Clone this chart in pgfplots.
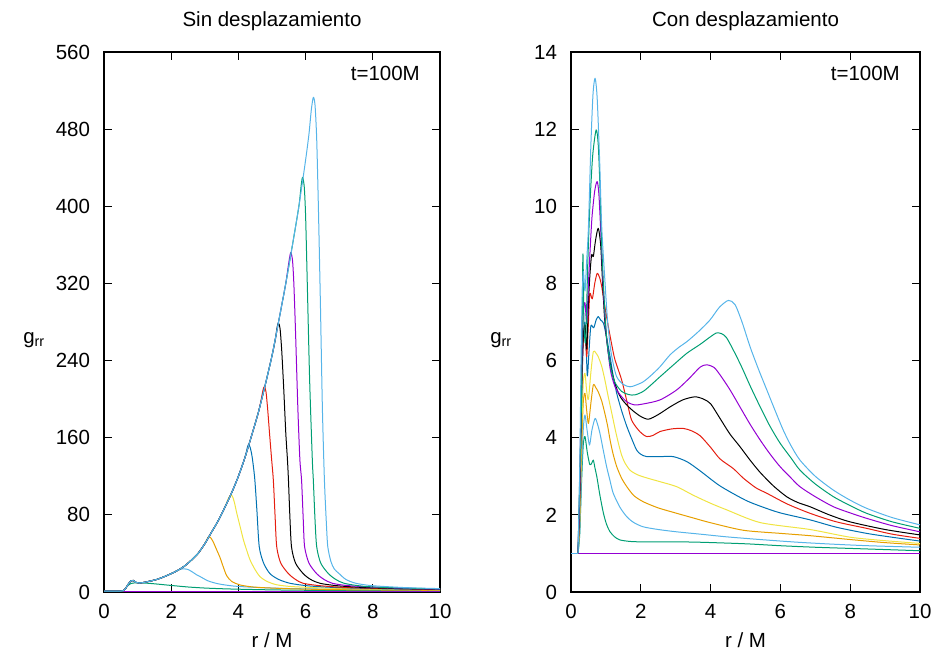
\documentclass[border=0pt]{standalone}
\usepackage{pgfplots}
\pgfplotsset{compat=1.18}
\usepackage{fontspec}
\setmainfont{Liberation Sans}

% gnuplot default line colours
\definecolor{gpPurple}{HTML}{9400D3}
\definecolor{gpGreen}{HTML}{009E73}
\definecolor{gpSky}{HTML}{56B4E9}
\definecolor{gpOrange}{HTML}{E69F00}
\definecolor{gpYellow}{HTML}{F0E442}
\definecolor{gpBlue}{HTML}{0072B2}
\definecolor{gpRed}{HTML}{E51E10}

\pgfplotsset{
  gpframe/.style={
    scale only axis,
    anchor=south west,
    height=540pt,
    xmin=0, xmax=10,
    xtick={0,2,4,6,8,10},
    tick align=inside,
    major tick length=8pt,
    axis line style={line width=1.4pt},
    every tick/.style={black, line width=0.9pt},
    /pgf/number format/assume math mode=true,
    xticklabel style={yshift=-5pt},
    yticklabel style={xshift=-7pt},
    every axis plot/.append style={line width=1pt, line join=round, smooth, tension=0.45},
    clip=true,
  },
}

\begin{document}
\fontsize{20.5}{24}\selectfont
\begin{tikzpicture}[x=1pt,y=1pt]
\useasboundingbox (0,0) rectangle (939,658);

% ---------------- left: without shift ----------------
\begin{axis}[gpframe, at={(104pt,66pt)}, width=336pt,
  ymin=0, ymax=560, ytick={0,80,160,240,320,400,480,560}]
\addplot[gpPurple] coordinates {(0,1)(10,1)};
\addplot[gpGreen] coordinates {(0,1)(0.5,1)(0.58,1.5)(0.65,4)(0.72,7)(0.8,8.8)(0.9,9.4)(1.0,9.5)(1.2,9.3)(1.5,8.5)(2.0,6.8)(2.5,5.2)(3.0,4.1)(3.5,3.4)(4.0,2.9)(5.0,2.2)(6.0,1.8)(7.0,1.6)(8.0,1.45)(10,1.3)};
\addplot[gpSky] coordinates {(0,1)(0.5,1)(0.58,1.5)(0.65,4)(0.72,8)(0.8,11.5)(0.87,12)(0.95,10)(1.05,9.3)(1.2,10)(1.4,11.5)(1.6,13.3)(1.8,16)(2.0,19)(2.15,22)(2.3,23.8)(2.39,24)(2.5,23.3)(2.62,21)(2.75,18)(2.86,16)(3.1,11.5)(3.4,8.5)(3.85,6.2)(4.5,4.8)(5.5,3.6)(7.3,2.7)(10,2)};
\addplot[gpOrange] coordinates {(0,1)(0.5,1)(0.58,1.5)(0.65,4)(0.72,8)(0.8,11.5)(0.87,12)(0.95,10)(1.05,9.3)(1.2,10)(1.4,11.5)(1.6,13.3)(1.8,16)(2.0,19)(2.2,22.5)(2.4,27)(2.6,33)(2.8,40)(3.0,50)(3.1,57)(3.17,56.5)(3.25,52)(3.35,44)(3.45,36)(3.55,26)(3.65,17)(3.8,11)(4.05,7.3)(4.5,5)(5.5,3.4)(7,2.4)(10,1.7)};
\addplot[gpYellow] coordinates {(0,1)(0.5,1)(0.58,1.5)(0.65,4)(0.72,8)(0.8,11.5)(0.87,12)(0.95,10)(1.05,9.3)(1.2,10)(1.4,11.5)(1.6,13.3)(1.8,16)(2.0,19)(2.2,22.5)(2.4,27)(2.6,33)(2.8,40)(3.0,50)(3.1,56)(3.2,62)(3.4,74)(3.6,88)(3.7,97)(3.77,100.6)(3.82,99.5)(3.88,93)(3.95,82)(4.05,68)(4.15,54)(4.25,43)(4.35,33)(4.5,23)(4.64,16)(4.85,11)(5.14,7.5)(5.6,5.6)(6.5,4.2)(7.5,3.3)(10,2.2)};
\addplot[gpBlue] coordinates {(0,1)(0.5,1)(0.58,1.5)(0.65,4)(0.72,8)(0.8,11.5)(0.87,12)(0.95,10)(1.05,9.3)(1.2,10)(1.4,11.5)(1.6,13.3)(1.8,16)(2.0,19)(2.2,22.5)(2.4,27)(2.6,33)(2.8,40)(3.0,50)(3.1,56)(3.2,62)(3.4,74)(3.6,88)(3.8,103)(4.0,120)(4.2,140)(4.26,149)(4.30,153)(4.35,150)(4.40,142)(4.44,132)(4.49,116)(4.55,85)(4.62,47)(4.75,30)(4.94,19)(5.2,13)(5.54,9)(6.1,6.3)(7,4.5)(8.5,3.2)(10,2.4)};
\addplot[gpRed] coordinates {(0,1)(0.5,1)(0.58,1.5)(0.65,4)(0.72,8)(0.8,11.5)(0.87,12)(0.95,10)(1.05,9.3)(1.2,10)(1.4,11.5)(1.6,13.3)(1.8,16)(2.0,19)(2.2,22.5)(2.4,27)(2.6,33)(2.8,40)(3.0,50)(3.1,56)(3.2,62)(3.4,74)(3.6,88)(3.8,103)(4.0,120)(4.2,140)(4.4,163)(4.6,187)(4.68,200)(4.73,209)(4.77,213)(4.82,208)(4.87,190)(4.93,163)(4.99,137)(5.04,116)(5.09,80)(5.14,47)(5.26,30)(5.49,19)(5.7,13)(5.93,9)(6.5,6.3)(7.5,4.3)(10,2.6)};
\addplot[black] coordinates {(0,1)(0.5,1)(0.58,1.5)(0.65,4)(0.72,8)(0.8,11.5)(0.87,12)(0.95,10)(1.05,9.3)(1.2,10)(1.4,11.5)(1.6,13.3)(1.8,16)(2.0,19)(2.2,22.5)(2.4,27)(2.6,33)(2.8,40)(3.0,50)(3.1,56)(3.2,62)(3.4,74)(3.6,88)(3.8,103)(4.0,120)(4.2,140)(4.4,163)(4.6,187)(4.8,215)(5.0,245)(5.1,262)(5.15,274)(5.19,279)(5.24,273)(5.29,250)(5.35,210)(5.41,165)(5.46,137)(5.49,116)(5.53,80)(5.58,47)(5.7,30)(5.93,19)(6.15,13)(6.43,9)(7,6.3)(8,4.3)(10,2.8)};
\addplot[gpPurple] coordinates {(0,1)(0.5,1)(0.58,1.5)(0.65,4)(0.72,8)(0.8,11.5)(0.87,12)(0.95,10)(1.05,9.3)(1.2,10)(1.4,11.5)(1.6,13.3)(1.8,16)(2.0,19)(2.2,22.5)(2.4,27)(2.6,33)(2.8,40)(3.0,50)(3.1,56)(3.2,62)(3.4,74)(3.6,88)(3.8,103)(4.0,120)(4.2,140)(4.4,163)(4.6,187)(4.8,215)(5.0,245)(5.2,281)(5.4,318)(5.46,332)(5.52,346)(5.56,352)(5.61,344)(5.65,320)(5.7,270)(5.77,190)(5.83,137)(5.88,116)(5.93,75)(5.97,47)(6.1,30)(6.33,19)(6.55,13)(6.8,9)(7.3,6.5)(8.5,4.3)(10,3)};
\addplot[gpGreen] coordinates {(0,1)(0.5,1)(0.58,1.5)(0.65,4)(0.72,8)(0.8,11.5)(0.87,12)(0.95,10)(1.05,9.3)(1.2,10)(1.4,11.5)(1.6,13.3)(1.8,16)(2.0,19)(2.2,22.5)(2.4,27)(2.6,33)(2.8,40)(3.0,50)(3.1,56)(3.2,62)(3.4,74)(3.6,88)(3.8,103)(4.0,120)(4.2,140)(4.4,163)(4.6,187)(4.8,215)(5.0,245)(5.2,281)(5.4,318)(5.6,358)(5.8,400)(5.87,422)(5.91,430)(5.96,420)(6.0,390)(6.05,320)(6.12,220)(6.2,137)(6.23,116)(6.28,75)(6.33,47)(6.45,30)(6.68,19)(6.9,13)(7.15,9)(7.7,6)(8.5,4.5)(10,3.2)};
\addplot[gpSky] coordinates {(0,1)(0.5,1)(0.58,1.5)(0.65,4)(0.72,8)(0.8,11.5)(0.87,12)(0.95,10)(1.05,9.3)(1.2,10)(1.4,11.5)(1.6,13.3)(1.8,16)(2.0,19)(2.2,22.5)(2.4,27)(2.6,33)(2.8,40)(3.0,50)(3.1,56)(3.2,62)(3.4,74)(3.6,88)(3.8,103)(4.0,120)(4.2,140)(4.4,163)(4.6,187)(4.8,215)(5.0,245)(5.2,281)(5.4,318)(5.6,358)(5.8,400)(6.0,448)(6.1,475)(6.17,500)(6.23,513)(6.28,505)(6.33,470)(6.38,400)(6.44,300)(6.5,190)(6.56,116)(6.62,70)(6.66,47)(6.75,32)(6.85,24)(7.0,19)(7.2,13)(7.5,9)(8,6.5)(9,4.5)(10,3.5)};
\end{axis}

% ---------------- right: with shift ----------------
% every curve sits on g_rr = 1 for r < 0.2; that common flat start is drawn once, last
\begin{axis}[gpframe, at={(571pt,66pt)}, width=349pt,
  ymin=0, ymax=14, ytick={0,2,4,6,8,10,12,14}]
\addplot[gpPurple] coordinates {(0,1)(10,1)};
\addplot[gpGreen] coordinates {(0.2,1)(0.25,1.5)(0.3,2.8)(0.35,3.8)(0.4,4.03)(0.47,3.6)(0.54,3.3)(0.6,3.35)(0.64,3.42)(0.69,3.2)(0.74,2.99)(0.83,2.5)(0.93,2.04)(1.02,1.75)(1.12,1.56)(1.25,1.43)(1.4,1.35)(1.7,1.31)(2.07,1.30)(3,1.30)(3.7,1.29)(5,1.25)(6,1.2)(7,1.16)(8,1.13)(9,1.1)(10,1.07)};
\addplot[gpSky] coordinates {(0.2,1)(0.25,1.6)(0.3,3)(0.35,4.2)(0.4,4.59)(0.46,4.2)(0.53,3.81)(0.6,4.2)(0.69,4.5)(0.76,4.35)(0.83,4.11)(0.93,3.65)(1.02,3.25)(1.12,2.88)(1.21,2.56)(1.4,2.2)(1.6,1.95)(1.8,1.8)(2.07,1.69)(2.5,1.62)(3.03,1.56)(3.7,1.5)(4.46,1.43)(5.42,1.36)(6.5,1.29)(7.5,1.24)(8.5,1.2)(10,1.16)};
\addplot[gpOrange] coordinates {(0.2,1)(0.25,1.8)(0.3,3.6)(0.35,4.9)(0.4,5.15)(0.45,4.7)(0.5,4.37)(0.57,4.9)(0.64,5.37)(0.71,5.3)(0.78,5.19)(0.88,4.95)(0.97,4.63)(1.05,4.3)(1.12,3.94)(1.2,3.6)(1.31,3.25)(1.45,2.95)(1.6,2.73)(1.8,2.5)(2.07,2.34)(2.5,2.18)(3.03,2.04)(3.5,1.92)(3.98,1.8)(4.94,1.6)(6,1.52)(6.85,1.46)(8,1.36)(9,1.28)(10,1.22)};
\addplot[gpYellow] coordinates {(0.2,1)(0.25,2)(0.3,4)(0.35,5.4)(0.4,5.67)(0.45,5.2)(0.5,5.0)(0.57,5.7)(0.64,6.23)(0.71,6.2)(0.78,6.1)(0.88,5.85)(0.97,5.5)(1.07,5.05)(1.17,4.63)(1.27,4.2)(1.36,3.85)(1.45,3.55)(1.55,3.34)(1.7,3.15)(1.93,3.03)(2.2,2.95)(2.55,2.86)(3.03,2.73)(3.5,2.51)(4.0,2.3)(4.46,2.13)(5.42,1.8)(6.85,1.62)(8,1.42)(9,1.33)(10,1.26)};
\addplot[gpBlue] coordinates {(0.2,1)(0.25,2.2)(0.3,4.8)(0.35,6.5)(0.4,7.0)(0.44,6.2)(0.47,5.6)(0.52,6.3)(0.57,6.9)(0.65,6.85)(0.72,7.05)(0.78,7.14)(0.85,7.05)(0.93,6.97)(1.02,6.6)(1.12,6.1)(1.21,5.6)(1.31,5.15)(1.45,4.7)(1.6,4.29)(1.75,3.95)(1.88,3.68)(2.0,3.57)(2.17,3.51)(2.55,3.51)(2.93,3.51)(3.32,3.38)(3.7,3.14)(4.27,2.75)(5.0,2.38)(5.5,2.2)(6.0,2.05)(6.85,1.87)(7.6,1.68)(8.47,1.52)(9.2,1.42)(10,1.32)};
\addplot[gpRed] coordinates {(0.2,1)(0.25,2.4)(0.3,5)(0.35,6.5)(0.4,6.88)(0.45,6.1)(0.5,7.0)(0.54,7.74)(0.61,7.6)(0.68,8.0)(0.75,8.26)(0.82,8.15)(0.88,7.92)(0.97,7.4)(1.07,6.88)(1.17,6.4)(1.26,6.02)(1.45,5.5)(1.6,4.95)(1.74,4.45)(1.98,4.15)(2.17,4.03)(2.35,4.06)(2.55,4.16)(2.9,4.23)(3.22,4.24)(3.45,4.18)(3.7,4.05)(4.0,3.75)(4.27,3.45)(4.65,3.2)(4.94,2.95)(5.3,2.7)(5.61,2.56)(6.2,2.28)(6.85,2.04)(7.6,1.82)(8.47,1.65)(9.2,1.5)(10,1.39)};
\addplot[black] coordinates {(0.2,1)(0.25,2.6)(0.3,5.2)(0.35,6.6)(0.4,6.92)(0.45,6.3)(0.5,7.5)(0.54,8.2)(0.59,8.74)(0.64,8.7)(0.7,9.1)(0.78,9.43)(0.85,9.0)(0.9,8.1)(0.97,7.0)(1.07,6.2)(1.2,5.6)(1.36,5.15)(1.5,4.95)(1.65,4.8)(1.8,4.68)(2.0,4.55)(2.22,4.48)(2.5,4.6)(2.84,4.8)(3.2,4.98)(3.55,5.06)(3.8,5.0)(4.0,4.88)(4.27,4.5)(4.55,4.1)(4.84,3.77)(5.13,3.42)(5.42,3.1)(5.8,2.75)(6.18,2.47)(6.5,2.32)(6.85,2.21)(7.4,2.0)(7.99,1.82)(9,1.62)(10,1.48)};
\addplot[gpPurple] coordinates {(0.2,1)(0.25,2.8)(0.3,5.5)(0.35,7.2)(0.4,7.5)(0.45,7.0)(0.5,8.0)(0.54,8.74)(0.6,9.7)(0.68,10.4)(0.75,10.64)(0.8,10.3)(0.86,9.2)(0.93,7.8)(1.0,6.8)(1.12,5.8)(1.25,5.35)(1.4,5.12)(1.6,4.93)(1.83,4.85)(2.1,4.88)(2.55,4.98)(3.03,5.24)(3.4,5.55)(3.7,5.83)(3.89,5.89)(4.1,5.82)(4.27,5.63)(4.55,5.25)(4.84,4.8)(5.13,4.35)(5.42,3.94)(5.7,3.58)(5.99,3.25)(6.3,2.96)(6.56,2.73)(7.0,2.47)(7.52,2.21)(8,2.05)(8.47,1.91)(9.2,1.72)(10,1.56)};
\addplot[gpGreen] coordinates {(0.2,1)(0.25,3)(0.3,5)(0.34,8.74)(0.37,7)(0.42,6.5)(0.48,8.5)(0.54,10.0)(0.62,11.3)(0.72,11.98)(0.78,11.6)(0.83,10.5)(0.88,8.95)(0.95,7.6)(1.02,6.6)(1.12,5.9)(1.25,5.45)(1.45,5.2)(1.65,5.12)(1.83,5.11)(2.1,5.22)(2.55,5.58)(2.95,5.9)(3.32,6.19)(3.7,6.42)(4.0,6.62)(4.2,6.72)(4.45,6.6)(4.84,5.93)(5.13,5.35)(5.42,4.8)(5.7,4.3)(5.99,3.86)(6.3,3.48)(6.56,3.16)(7.0,2.8)(7.52,2.47)(8,2.24)(8.47,2.04)(9.2,1.82)(10,1.65)};
\addplot[gpSky] coordinates {(0.2,1)(0.25,3.2)(0.3,6.8)(0.35,8.3)(0.4,7.8)(0.45,8.6)(0.5,9.47)(0.57,11.6)(0.63,12.9)(0.69,13.32)(0.75,12.8)(0.82,11.2)(0.88,9.47)(0.97,8.09)(1.05,7.0)(1.15,6.2)(1.3,5.6)(1.5,5.38)(1.69,5.32)(1.85,5.36)(2.07,5.45)(2.3,5.62)(2.55,5.84)(2.84,6.15)(3.1,6.35)(3.32,6.49)(3.65,6.75)(3.98,7.05)(4.25,7.38)(4.51,7.56)(4.7,7.45)(4.9,7.0)(5.13,6.36)(5.37,5.78)(5.61,5.24)(5.85,4.7)(6.08,4.2)(6.3,3.8)(6.56,3.42)(7.0,3.0)(7.52,2.64)(8,2.38)(8.47,2.17)(9.2,1.93)(10,1.74)};
\addplot[gpSky, sharp plot] coordinates {(0,1)(0.2,1)};
\end{axis}

% titles, axis labels and time stamp
\node[anchor=base] at (272,631) {Sin desplazamiento};
\node[anchor=base] at (745.5,631) {Con desplazamiento};
\node[anchor=base] at (272,10) {r / M};
\node[anchor=base] at (745.5,10) {r / M};
\node at (34,318) {g\textsubscript{rr}};
\node at (501,318) {g\textsubscript{rr}};
\node[anchor=base east, inner sep=0pt] at (420,577) {t=100M};
\node[anchor=base east, inner sep=0pt] at (900,577) {t=100M};
\end{tikzpicture}
\end{document}
